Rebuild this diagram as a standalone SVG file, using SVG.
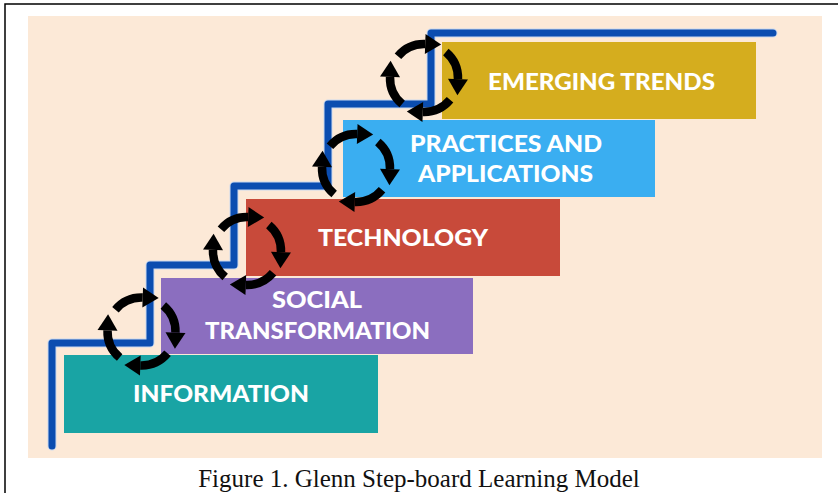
<svg xmlns="http://www.w3.org/2000/svg" width="838" height="493" viewBox="0 0 838 493">
  <style>
    .lbl { font-family: "Lato", "Open Sans", sans-serif; font-weight: 900; font-size: 22px; fill: #ffffff; }
    .cap { font-family: "Liberation Serif", "Times New Roman", serif; font-size: 25px; fill: #111111; }
    .stair { fill: none; stroke: #0b4db0; stroke-width: 7; stroke-linecap: round; stroke-linejoin: round; }
    .halo { fill: none; stroke: #c9d9f0; stroke-width: 9; stroke-linecap: round; stroke-linejoin: round; }
    .arc { fill: none; stroke: #000000; stroke-width: 8.5; marker-end: url(#head); }
  </style>
  <defs>
    <marker id="head" markerUnits="userSpaceOnUse" viewBox="0 -11 17 22" markerWidth="17" markerHeight="22" refX="0" refY="0" orient="auto" overflow="visible">
      <path d="M0,-10 L16,0 L0,10 z" fill="#000000"/>
    </marker>
    <!-- four clockwise arcs, each ending in an arrowhead -->
    <g id="cycle">
      <path class="arc" d="M-26.05,-21.85 A34,34 0 0 1 1.19,-33.98"/>
      <path class="arc" d="M-26.05,-21.85 A34,34 0 0 1 1.19,-33.98" transform="rotate(90)"/>
      <path class="arc" d="M-26.05,-21.85 A34,34 0 0 1 1.19,-33.98" transform="rotate(180)"/>
      <path class="arc" d="M-26.05,-21.85 A34,34 0 0 1 1.19,-33.98" transform="rotate(270)"/>
    </g>
  </defs>

  <!-- frame and panel -->
  <rect x="5" y="4" width="900" height="600" fill="#ffffff" stroke="#000000" stroke-width="1.5"/>
  <rect x="28" y="16" width="794" height="442" fill="#fce9d7"/>

  <g id="step-information">
    <rect x="64" y="355" width="314" height="78" fill="#19a4a4"/>
    <text class="lbl" x="221" y="402" text-anchor="middle" textLength="176" lengthAdjust="spacingAndGlyphs">INFORMATION</text>
  </g>
  <g id="step-social-transformation">
    <rect x="161" y="278" width="312" height="76" fill="#8b6ebf"/>
    <text class="lbl" x="317" y="308" text-anchor="middle" textLength="90" lengthAdjust="spacingAndGlyphs">SOCIAL</text>
    <text class="lbl" x="317.5" y="339" text-anchor="middle" textLength="225" lengthAdjust="spacingAndGlyphs">TRANSFORMATION</text>
  </g>
  <g id="step-technology">
    <rect x="246" y="199" width="314" height="77" fill="#c84a3a"/>
    <text class="lbl" x="403" y="246" text-anchor="middle" textLength="170" lengthAdjust="spacingAndGlyphs">TECHNOLOGY</text>
  </g>
  <g id="step-practices">
    <rect x="343" y="120" width="312" height="77" fill="#3aaef1"/>
    <text class="lbl" x="506" y="152" text-anchor="middle" textLength="192" lengthAdjust="spacingAndGlyphs">PRACTICES AND</text>
    <text class="lbl" x="505.5" y="182" text-anchor="middle" textLength="175" lengthAdjust="spacingAndGlyphs">APPLICATIONS</text>
  </g>
  <g id="step-emerging-trends">
    <rect x="442" y="42" width="314" height="77" fill="#d5ad1e"/>
    <text class="lbl" x="601.5" y="90" text-anchor="middle" textLength="227" lengthAdjust="spacingAndGlyphs">EMERGING TRENDS</text>
  </g>

  <g id="connectors">
    <path class="halo" d="M52,446 V343 H150 V265 H234 V186 H328 V104 H431 V33 H773"/>
    <path class="stair" d="M52,446 V343 H150 V265 H234 V186 H328 V104 H431 V33 H773"/>
    <use href="#cycle" transform="translate(141.5,331.5)"/>
    <use href="#cycle" transform="translate(247,251)"/>
    <use href="#cycle" transform="translate(356,168)"/>
    <use href="#cycle" transform="translate(424,78)"/>
  </g>

  <text class="cap" x="419" y="487" text-anchor="middle">Figure 1. Glenn Step-board Learning Model</text>
</svg>
